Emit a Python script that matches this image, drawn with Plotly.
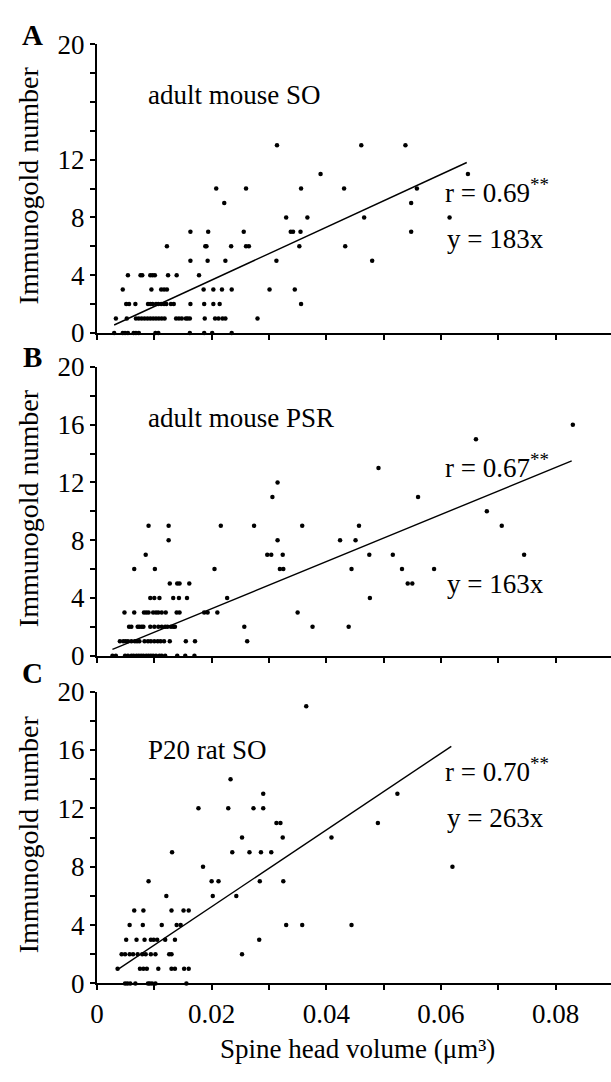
import plotly.graph_objects as go

# ---------------- data ----------------
# gold counts and, for each count, the spine head volumes (µm³) of the points
so_adult_gold = [0, 1, 2, 3, 4, 5, 6, 7, 8, 9, 10, 11, 13]
so_adult_vol = [
    [0.003, 0.0045, 0.0049, 0.0054, 0.0064, 0.0068, 0.0073, 0.0102, 0.0107, 0.0162, 0.0187, 0.0201, 0.0235],
    [0.0033, 0.0052, 0.0068, 0.0073, 0.0078, 0.0083, 0.0088, 0.0093, 0.0098, 0.0103, 0.0108, 0.0113, 0.0118,
     0.0138, 0.0143, 0.0148, 0.0155, 0.0158, 0.0162, 0.0188, 0.0206, 0.0212, 0.0219, 0.0224, 0.028],
    [0.0051, 0.0056, 0.0067, 0.0089, 0.0093, 0.0097, 0.0103, 0.0107, 0.0112, 0.0117, 0.0121, 0.0129, 0.0134,
     0.0163, 0.0187, 0.0203, 0.0214, 0.0356],
    [0.0045, 0.0095, 0.0112, 0.0117, 0.0122, 0.0186, 0.0203, 0.0218, 0.0235, 0.0301, 0.0345],
    [0.0054, 0.0076, 0.0079, 0.0093, 0.0097, 0.0101, 0.0124, 0.0139, 0.0178],
    [0.0163, 0.0193, 0.0224, 0.0313, 0.048],
    [0.0122, 0.0189, 0.0191, 0.0234, 0.026, 0.0265, 0.0353, 0.0433],
    [0.0163, 0.0194, 0.0256, 0.0338, 0.0342, 0.0355, 0.0548],
    [0.033, 0.0367, 0.0466, 0.0615],
    [0.0222, 0.0548],
    [0.0208, 0.026, 0.0356, 0.0431, 0.0558],
    [0.039, 0.0647],
    [0.0314, 0.0461, 0.0538],
]

psr_adult_gold = [0, 1, 2, 3, 4, 5, 6, 7, 8, 9, 10, 11, 12, 13, 15, 16]
psr_adult_vol = [
    [0.0027, 0.0033, 0.0049, 0.0054, 0.006, 0.0064, 0.0069, 0.0073, 0.0077, 0.0081, 0.0086, 0.009, 0.0094,
     0.0098, 0.0103, 0.0109, 0.0113, 0.0119, 0.014, 0.0154, 0.017],
    [0.004, 0.0046, 0.005, 0.0054, 0.006, 0.0066, 0.007, 0.0074, 0.0083, 0.0089, 0.0094, 0.01, 0.0106,
     0.0111, 0.0117, 0.0127, 0.0155, 0.0171, 0.0262],
    [0.0056, 0.006, 0.0071, 0.0074, 0.0078, 0.0081, 0.0093, 0.01, 0.0107, 0.0113, 0.0119, 0.0123, 0.0129,
     0.0133, 0.0136, 0.0257, 0.0376, 0.0439],
    [0.0048, 0.0065, 0.0082, 0.0086, 0.009, 0.0098, 0.0103, 0.0107, 0.0113, 0.012, 0.0139, 0.0144, 0.0187,
     0.0193, 0.021, 0.035],
    [0.0093, 0.01, 0.0109, 0.0133, 0.0143, 0.0157, 0.0227, 0.0476],
    [0.0127, 0.014, 0.0144, 0.0161, 0.0542, 0.055],
    [0.0065, 0.0101, 0.0205, 0.0319, 0.0325, 0.0444, 0.0532, 0.0588],
    [0.0085, 0.0297, 0.0304, 0.0324, 0.0475, 0.0516, 0.0745],
    [0.0125, 0.0315, 0.0424, 0.0451],
    [0.009, 0.0125, 0.0216, 0.0274, 0.0358, 0.0457, 0.0706],
    [0.068],
    [0.0306, 0.056],
    [0.0315],
    [0.0491],
    [0.0661],
    [0.083],
]

so_p20_gold = [0, 1, 2, 3, 4, 5, 6, 7, 8, 9, 10, 11, 12, 13, 14, 19]
so_p20_vol = [
    [0.0049, 0.0053, 0.0058, 0.0067, 0.0089, 0.0092, 0.0096, 0.0102, 0.0156],
    [0.0036, 0.0075, 0.0081, 0.0087, 0.0107, 0.013, 0.0136, 0.0152, 0.016],
    [0.0043, 0.0049, 0.0057, 0.0063, 0.0071, 0.0079, 0.0085, 0.0094, 0.0102, 0.0126, 0.013, 0.0253],
    [0.0051, 0.0069, 0.0083, 0.0094, 0.0099, 0.0105, 0.0119, 0.0136, 0.0283],
    [0.0057, 0.008, 0.0113, 0.0139, 0.0146, 0.033, 0.0358, 0.0444],
    [0.0065, 0.0081, 0.013, 0.0151, 0.016],
    [0.0121, 0.0202, 0.0243],
    [0.009, 0.02, 0.0212, 0.0284, 0.0325],
    [0.0185, 0.062],
    [0.0131, 0.0236, 0.0266, 0.0286, 0.0304],
    [0.0253, 0.0324, 0.0409],
    [0.0313, 0.032, 0.049],
    [0.0177, 0.0229, 0.0273, 0.029],
    [0.029, 0.0524],
    [0.0233],
    [0.0365],
]

slopes = [183, 163, 263]                     # y = k x
fit_x_ranges = [[0.003, 0.0645], [0.0027, 0.0828], [0.0036, 0.0618]]
r_values = ["0.69", "0.67", "0.70"]
panel_letters = ["A", "B", "C"]
panel_titles = ["adult mouse SO", "adult mouse PSR", "P20 rat SO"]
y_ticklabels = [
    ["0", "", "4", "", "8", "", "12", "", "", "", "20"],
    ["0", "", "4", "", "8", "", "12", "", "16", "", "20"],
    ["0", "", "4", "", "8", "", "12", "", "16", "", "20"],
]
x_tickvals = [0, 0.01, 0.02, 0.03, 0.04, 0.05, 0.06, 0.07, 0.08]
x_ticktext = ["0", "", "0.02", "", "0.04", "", "0.06", "", "0.08"]
x_title = "Spine head volume (μm³)"
y_title = "Immunogold number"

# ---------------- layout geometry (pixels) ----------------
W, H = 611, 1082
FONT = "Liberation Serif, Times New Roman, serif"
axis_left = 91
panels_px = [(30, 327), (362, 659), (696, 996)]   # (top=20, bottom=0)


def px_x(p):
    return p / W


def px_y(p):
    return 1 - p / H


fig = go.Figure()
datasets = [(so_adult_gold, so_adult_vol), (psr_adult_gold, psr_adult_vol), (so_p20_gold, so_p20_vol)]


def note(text, x, y, size=27, xanchor="center", angle=0):
    return dict(text=text, x=px_x(x), y=px_y(y), xref="paper", yref="paper",
                xanchor=xanchor, yanchor="middle", showarrow=False, textangle=angle,
                font=dict(family=FONT, size=size, color="black"))


annotations = []
for i, ((golds, vols), (top, bot)) in enumerate(zip(datasets, panels_px)):
    xs, ys = [], []
    for g, vl in zip(golds, vols):
        for v in vl:
            xs.append(v)
            ys.append(g)
    xa = "x" if i == 0 else f"x{i+1}"
    ya = "y" if i == 0 else f"y{i+1}"
    fig.add_trace(go.Scatter(
        x=xs, y=ys, mode="markers", xaxis=xa, yaxis=ya,
        marker=dict(size=4.5, color="black", symbol="circle"),
        cliponaxis=False, showlegend=False, hoverinfo="skip"))
    fx = fit_x_ranges[i]
    fig.add_trace(go.Scatter(
        x=fx, y=[slopes[i] * fx[0], slopes[i] * fx[1]], mode="lines",
        xaxis=xa, yaxis=ya, line=dict(color="black", width=1.4),
        showlegend=False, hoverinfo="skip"))

    xkey = "xaxis" if i == 0 else f"xaxis{i+1}"
    ykey = "yaxis" if i == 0 else f"yaxis{i+1}"
    last = i == 2
    fig.layout[xkey] = dict(
        domain=[px_x(axis_left), 1], range=[0, (W - axis_left) / 5800],
        anchor=ya, showgrid=False, zeroline=False,
        showline=True, linecolor="black", linewidth=2,
        ticks="outside", ticklen=5, tickwidth=1.5, tickcolor="black",
        tickvals=x_tickvals, ticktext=x_ticktext,
        showticklabels=last,
        tickfont=dict(family=FONT, size=27, color="black"),
        fixedrange=True)
    fig.layout[ykey] = dict(
        domain=[px_y(bot), px_y(top)], range=[0, 20],
        anchor=xa, showgrid=False, zeroline=False,
        showline=True, linecolor="black", linewidth=2,
        ticks="outside", ticklen=5, tickwidth=1.5, tickcolor="black",
        tickvals=list(range(0, 21, 2)), ticktext=y_ticklabels[i],
        tickfont=dict(family=FONT, size=27, color="black"),
        fixedrange=True)

    annotations.append(note(y_title, 22, (top + bot) / 2 - 3, size=28, angle=-90))

# panel letters
for letter, py in zip(panel_letters, [21, 352, 677]):
    annotations.append(note(f"<b>{letter}</b>", 26, py, size=29))

# panel titles
for title, py in zip(panel_titles, [82, 414, 756]):
    annotations.append(note(title, 141, py, xanchor="left"))

# statistics
r_pos = [181, 464, 777]
eq_pos = [230, 585, 826]
for i in range(3):
    annotations.append(note(f"r = {r_values[i]}<sup>**</sup>", 441, r_pos[i], xanchor="left"))
    annotations.append(note(f"y = {slopes[i]}x", 443, eq_pos[i], xanchor="left"))

# x-axis title
annotations.append(note(x_title, 355, 1063))

fig.update_layout(
    width=W, height=H, margin=dict(l=0, r=0, t=0, b=0),
    paper_bgcolor="white", plot_bgcolor="white",
    annotations=annotations, showlegend=False)

fig.write_html("out.html", config={"displayModeBar": False})

# remove the browser's default body margin so the figure sits at the page origin
with open("out.html", encoding="utf-8") as f:
    html = f.read()
html = html.replace("<body>", '<body style="margin:0;padding:0;overflow:hidden">', 1)
with open("out.html", "w", encoding="utf-8") as f:
    f.write(html)
